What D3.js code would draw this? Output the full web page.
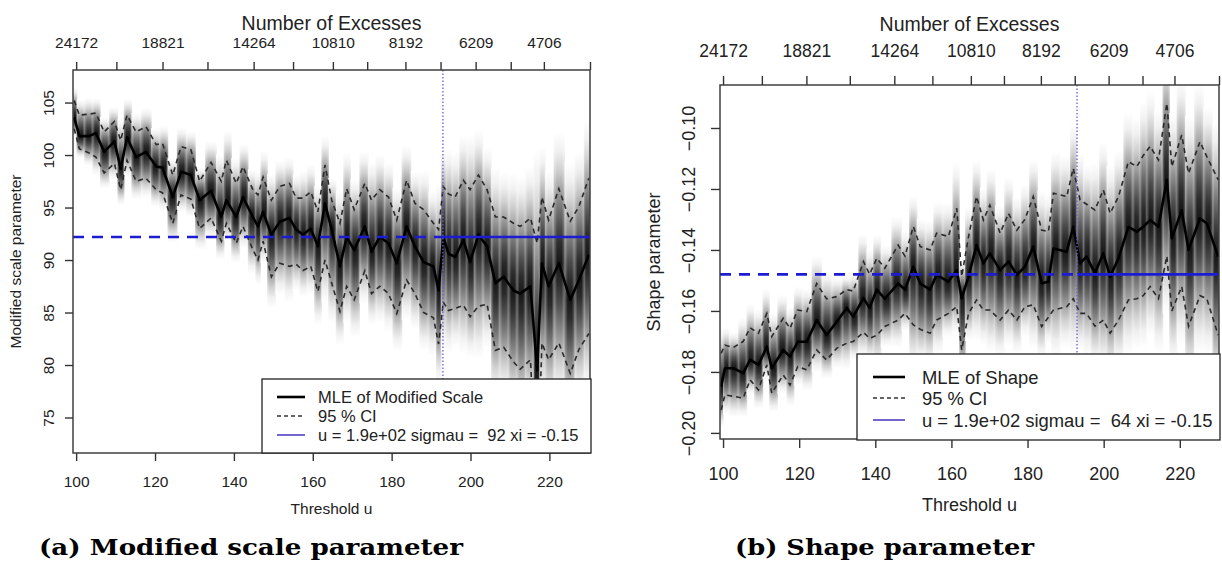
<!DOCTYPE html>
<html><head><meta charset="utf-8">
<script src="https://cdn.jsdelivr.net/npm/d3@7"></script>
<style>body{margin:0;background:#fff}svg{display:block}</style>
</head><body>
<svg id="chart" width="1222" height="571"></svg>
<script>
// ---------- data ----------
const thresholdsScale = [99.5,100.8,103.3,105.0,107.1,109.7,111.3,112.9,115.2,117.7,120.3,121.9,124.5,126.6,129.1,131.3,134.2,136.8,138.1,140.6,142.3,144.8,146.1,147.4,149.5,151.6,154.1,155.8,157.5,159.5,161.3,163.1,164.8,166.9,168.6,170.5,173.2,174.9,177.0,179.2,181.3,183.8,185.9,188.1,190.6,191.9,193.1,194.4,196.1,198.2,199.9,202.0,204.2,206.3,208.4,210.9,212.6,215.2,216.9,218.1,219.8,222.4,225.3,227.5,230.0];
const mleScale   = [103.6,101.8,101.8,102.1,100.3,101.3,98.7,101.7,99.8,100.3,98.9,98.8,96.0,98.4,98.1,95.7,96.6,94.1,95.7,94.1,96.0,94.1,93.2,94.6,92.4,93.65,94.0,92.9,92.4,93.0,91.3,95.4,92.9,89.4,92.2,90.95,93.2,90.8,92.2,91.6,89.7,93.2,91.3,89.8,89.4,87.1,92.2,90.6,90.3,91.9,89.8,92.4,91.3,87.8,88.4,87.1,86.8,87.5,79.5,89.7,87.5,89.7,86.2,88.1,90.5];
const upperScale = [105.2,103.8,103.9,104.0,102.2,103.2,101.4,103.8,102.2,102.7,101.0,101.1,98.1,100.8,100.5,97.5,99.3,97.5,99.5,97.3,98.9,96.7,96.2,97.9,95.7,97.0,97.3,95.9,95.9,96.5,94.6,99.05,95.7,93.5,96.8,94.8,97.3,95.7,96.7,96.0,93.8,97.6,95.4,94.8,93.5,92.9,97.0,96.3,96.0,97.6,96.7,98.1,96.7,94.1,94.1,93.5,93.2,94.0,91.6,96.0,93.8,96.8,93.7,95.1,97.8];
const lowerScale = [102.5,100.6,100.2,99.8,98.3,99.2,96.7,99.5,97.5,97.8,96.7,96.4,93.5,96.2,95.8,93.0,94.0,91.8,93.5,91.6,93.2,91.0,90.0,91.8,88.4,89.7,89.4,89.6,89.0,89.4,87.0,90.0,87.8,85.1,87.5,86.2,89.0,86.8,87.5,86.8,84.9,88.1,86.8,85.0,84.5,82.0,86.0,85.2,85.4,85.7,84.6,85.6,85.8,81.4,81.7,80.3,79.6,80.5,68.0,82.1,80.5,82.1,79.2,81.5,83.0];

const thresholdsShape = [99.5,100.5,102.7,105.3,107.1,109.3,111.5,112.8,115.8,117.6,119.6,122.0,124.6,127.2,129.9,132.5,134.2,136.9,138.5,140.4,142.5,146.0,147.8,150.0,151.8,154.4,156.1,159.2,161.4,162.7,164.5,166.6,168.4,170.1,172.8,175.0,177.2,179.3,181.5,183.7,185.5,186.8,190.3,192.0,193.8,195.5,197.7,199.9,201.7,203.9,206.5,208.7,210.4,212.2,214.4,216.6,217.9,220.5,222.3,225.3,227.1,230.1];
const mleShape   = [-0.1848,-0.1788,-0.1788,-0.1804,-0.1760,-0.1777,-0.1717,-0.1788,-0.1728,-0.1750,-0.1701,-0.1701,-0.1630,-0.1679,-0.1635,-0.1590,-0.1619,-0.1558,-0.1590,-0.1530,-0.1560,-0.1510,-0.1530,-0.1455,-0.1510,-0.1530,-0.1482,-0.1504,-0.1466,-0.1559,-0.1487,-0.1384,-0.1444,-0.1411,-0.1466,-0.1438,-0.1482,-0.1455,-0.1389,-0.1509,-0.1504,-0.1395,-0.1406,-0.1324,-0.1444,-0.1422,-0.1476,-0.1411,-0.1487,-0.1427,-0.1324,-0.1340,-0.1324,-0.1302,-0.1324,-0.1170,-0.1362,-0.1270,-0.1400,-0.1296,-0.1313,-0.1422];
const upperShape = [-0.1739,-0.1712,-0.1720,-0.1700,-0.1655,-0.1673,-0.1608,-0.1684,-0.1624,-0.1657,-0.1597,-0.1602,-0.1510,-0.1560,-0.1553,-0.1530,-0.1535,-0.1438,-0.1480,-0.1427,-0.1460,-0.1384,-0.1420,-0.1323,-0.1389,-0.1400,-0.1345,-0.1356,-0.1263,-0.1487,-0.1356,-0.1225,-0.1302,-0.1253,-0.1345,-0.1280,-0.1335,-0.1300,-0.1225,-0.1335,-0.1340,-0.1214,-0.1225,-0.1132,-0.1236,-0.1250,-0.1269,-0.1203,-0.1280,-0.1225,-0.1110,-0.1127,-0.1090,-0.1060,-0.1105,-0.0919,-0.1127,-0.1023,-0.1149,-0.1045,-0.1094,-0.1170];
const lowerShape = [-0.1925,-0.1875,-0.1880,-0.1886,-0.1826,-0.1859,-0.1777,-0.1870,-0.1810,-0.1843,-0.1783,-0.1793,-0.1728,-0.1761,-0.1722,-0.1706,-0.1700,-0.1670,-0.1690,-0.1680,-0.1651,-0.1630,-0.1608,-0.1646,-0.1660,-0.1673,-0.1630,-0.1608,-0.1586,-0.1728,-0.1608,-0.1564,-0.1597,-0.1597,-0.1630,-0.1597,-0.1630,-0.1586,-0.1580,-0.1651,-0.1620,-0.1597,-0.1586,-0.1560,-0.1608,-0.1608,-0.1650,-0.1630,-0.1673,-0.1630,-0.1564,-0.1560,-0.1550,-0.1520,-0.1560,-0.1420,-0.1600,-0.1520,-0.1650,-0.1550,-0.1560,-0.1680];

const thresholdTicks = [100,120,140,160,180,200,220];
const scaleTicks = [75,80,85,90,95,100,105];
const shapeTicks = [-0.20,-0.18,-0.16,-0.14,-0.12,-0.10];
const excessTickU = [100,110.2,121.9,133.3,145.0,155.0,165.1,173.8,183.5,192.4,201.3,210.2,218.6,230.3];
const excessTickLabels = ["24172","","18821","","14264","","10810","","8192","","6209","","4706",""];
const chosenThreshold = 193;
const refScale = 92.2;
const refShape = -0.148;
const legendScale = ["MLE of Modified Scale","95 % CI","u = 1.9e+02 sigmau =  92 xi = -0.15"];
const legendShape = ["MLE of Shape","95 % CI","u = 1.9e+02 sigmau =  64 xi = -0.15"];
const captions = ["(a) Modified scale parameter","(b) Shape parameter"];

// ---------- drawing ----------
const svg = d3.select("#chart");
const defs = svg.append("defs");
const FONT = "Liberation Sans, Arial, sans-serif";

// horizontal banding overlay gradient (lighter strip edges)
const band = defs.append("linearGradient").attr("id","band").attr("x1",0).attr("x2",1).attr("y1",0).attr("y2",0);
[[0,0.35],[0.3,0.0],[0.7,0.0],[1,0.35]].forEach(([o,a])=>band.append("stop").attr("offset",o).attr("stop-color","#fff").attr("stop-opacity",a));

function panel(cfg){
  const {id,box,yDomain,u,mle,up,lo,yTicks,yFmt,ref,fs,legend,leg,ylabel,lab} = cfg;
  const x = d3.scaleLinear().domain([99.2,230.3]).range([box.x0,box.x1]);
  const y = d3.scaleLinear().domain(yDomain).range([box.y1,box.y0]);
  const g = svg.append("g");
  defs.append("clipPath").attr("id","clip"+id).append("rect")
    .attr("x",box.x0).attr("y",box.y0).attr("width",box.x1-box.x0).attr("height",box.y1-box.y0);
  const plot = g.append("g").attr("clip-path",`url(#clip${id})`);

  // shaded strips
  const fs_ = [1.75,1.5,1.25,1.0,0.75,0.5,0.25,0];
  const grays = [255,240,208,165,120,78,44,24];
  u.forEach((ui,i)=>{
    const xl = i===0 ? box.x0 : x((u[i-1]+ui)/2);
    const xr = i===u.length-1 ? box.x1 : x((u[i+1]+ui)/2);
    const m = mle[i], hu = up[i]-m, hl = m-lo[i];
    const yTop = y(m+1.75*hu), yBot = y(m-1.75*hl);
    const gid = `g${id}_${i}`;
    const gr = defs.append("linearGradient").attr("id",gid).attr("gradientUnits","userSpaceOnUse")
      .attr("x1",0).attr("x2",0).attr("y1",yTop).attr("y2",yBot);
    const H = yBot-yTop;
    fs_.forEach((f,k)=>{ const c=grays[k]; gr.append("stop").attr("offset",(y(m+f*hu)-yTop)/H).attr("stop-color",`rgb(${c},${c},${c})`);});
    fs_.slice().reverse().slice(1).forEach((f,k)=>{ const c=grays[grays.length-2-k]; gr.append("stop").attr("offset",(y(m-f*hl)-yTop)/H).attr("stop-color",`rgb(${c},${c},${c})`);});
    plot.append("rect").attr("x",xl).attr("y",yTop).attr("width",Math.max(0,xr-xl)+0.5).attr("height",H).attr("fill",`url(#${gid})`);
    plot.append("rect").attr("x",xl).attr("y",yTop).attr("width",Math.max(0,xr-xl)+0.5).attr("height",H).attr("fill","url(#band)");
  });

  const line = arr => d3.line().x((d,i)=>x(u[i])).y(d=>y(d))(arr);
  plot.append("path").attr("d",line(up)).attr("fill","none").attr("stroke","#2a2a2a").attr("stroke-width",1.6).attr("stroke-dasharray","5,4");
  plot.append("path").attr("d",line(lo)).attr("fill","none").attr("stroke","#2a2a2a").attr("stroke-width",1.6).attr("stroke-dasharray","5,4");
  plot.append("path").attr("d",line(mle)).attr("fill","none").attr("stroke","#000").attr("stroke-width",2.6).attr("stroke-linejoin","round");

  // reference lines
  plot.append("line").attr("x1",box.x0).attr("x2",x(chosenThreshold)).attr("y1",y(ref)).attr("y2",y(ref))
    .attr("stroke","#1c1cd2").attr("stroke-width",2.6).attr("stroke-dasharray","11,8");
  plot.append("line").attr("x1",x(chosenThreshold)).attr("x2",box.x1).attr("y1",y(ref)).attr("y2",y(ref))
    .attr("stroke","#1c1cd2").attr("stroke-width",2.6);
  plot.append("line").attr("x1",x(chosenThreshold)).attr("x2",x(chosenThreshold)).attr("y1",box.y0).attr("y2",box.y1)
    .attr("stroke","#6a5fd0").attr("stroke-width",1.3).attr("stroke-dasharray","1.5,2");

  // box
  g.append("rect").attr("x",box.x0).attr("y",box.y0).attr("width",box.x1-box.x0).attr("height",box.y1-box.y0)
    .attr("fill","none").attr("stroke","#333").attr("stroke-width",1.4);

  // bottom axis
  const ax = d3.axisBottom(x).tickValues(thresholdTicks).tickSize(lab.tick).tickPadding(0).tickFormat(d3.format("d"));
  const gb = g.append("g").attr("transform",`translate(0,${box.y1})`).call(ax);
  gb.select(".domain").remove();
  gb.selectAll("line").attr("stroke","#333").attr("stroke-width",1.4);
  gb.selectAll("text").attr("y",lab.bottomY-box.y1).attr("dy",0).attr("font-family",FONT).attr("font-size",fs.tick).attr("fill","#222");
  g.append("text").attr("x",(box.x0+box.x1)/2).attr("y",lab.xTitleY).attr("text-anchor","middle")
    .attr("font-family",FONT).attr("font-size",fs.title).attr("fill","#222").text("Threshold u");

  // top axis
  const at = d3.axisTop(x).tickValues(excessTickU).tickSize(lab.tick).tickPadding(0).tickFormat((d,i)=>excessTickLabels[i]);
  const gt = g.append("g").attr("transform",`translate(0,${box.y0})`).call(at);
  gt.select(".domain").remove();
  gt.selectAll("line").attr("stroke","#333").attr("stroke-width",1.4);
  gt.selectAll("text").attr("y",lab.topY-box.y0).attr("dy",0).attr("font-family",FONT).attr("font-size",fs.top).attr("fill","#222");
  g.append("text").attr("x",(box.x0+box.x1)/2).attr("y",lab.topTitleY).attr("text-anchor","middle")
    .attr("font-family",FONT).attr("font-size",fs.topTitle).attr("fill","#222").text("Number of Excesses");

  // left axis
  const ay = d3.axisLeft(y).tickValues(yTicks).tickSize(lab.tick).tickFormat(yFmt);
  const gl = g.append("g").attr("transform",`translate(${box.x0},0)`).call(ay);
  gl.select(".domain").remove();
  gl.selectAll("line").attr("stroke","#333").attr("stroke-width",1.4);
  gl.selectAll("text").attr("x",0).attr("y",0).attr("dy",0)
    .attr("transform",d=>`translate(${lab.yLabX-box.x0},0) rotate(-90)`)
    .attr("text-anchor","middle").attr("font-family",FONT).attr("font-size",fs.tick).attr("fill","#222");
  g.append("text").attr("transform",`translate(${lab.yTitleX},${(box.y0+box.y1)/2}) rotate(-90)`).attr("text-anchor","middle")
    .attr("font-family",FONT).attr("font-size",fs.title).attr("fill","#222").text(ylabel);

  // legend
  const lg = g.append("g");
  lg.append("rect").attr("x",leg.x0).attr("y",leg.y0).attr("width",leg.x1-leg.x0).attr("height",leg.y1-leg.y0)
    .attr("fill","#fff").attr("stroke","#222").attr("stroke-width",1.3);
  const styles = [{c:"#000",w:2.6,d:null},{c:"#333",w:1.6,d:"4,3"},{c:"#7367cf",w:2,d:null}];
  legend.forEach((t,i)=>{
    const yy = leg.rows[i];
    const ln = lg.append("line").attr("x1",leg.lx0).attr("x2",leg.lx1).attr("y1",yy).attr("y2",yy)
      .attr("stroke",styles[i].c).attr("stroke-width",styles[i].w);
    if(styles[i].d) ln.attr("stroke-dasharray",styles[i].d);
    lg.append("text").attr("x",leg.tx).attr("y",yy+fs.legend*0.36).attr("font-family",FONT)
      .attr("font-size",fs.legend).attr("fill","#222").attr("xml:space","preserve").style("white-space","pre").text(t);
  });
}

panel({id:"a",box:{x0:73,x1:590,y0:70,y1:453},yDomain:[71.62,108.1],u:thresholdsScale,mle:mleScale,up:upperScale,lo:lowerScale,
  yTicks:scaleTicks,yFmt:d3.format("d"),ref:refScale,
  fs:{tick:15.5,title:15.5,top:15.5,topTitle:19.5,legend:16.5},
  legend:legendScale,
  leg:{x0:262,x1:591,y0:379,y1:453,rows:[397,416,435],lx0:277,lx1:305,tx:318},
  ylabel:"Modified scale parameter",
  lab:{tick:8,bottomY:487,xTitleY:514,topY:48,topTitleY:30,yLabX:54,yTitleX:21}});

panel({id:"b",box:{x0:720,x1:1219,y0:85,y1:439},yDomain:[-0.202,-0.0859],u:thresholdsShape,mle:mleShape,up:upperShape,lo:lowerShape,
  yTicks:shapeTicks,yFmt:d3.format(".2f"),ref:refShape,
  fs:{tick:18,title:18,top:17.5,topTitle:19.5,legend:18.4},
  legend:legendShape,
  leg:{x0:857,x1:1220,y0:354,y1:440,rows:[377,398,420],lx0:873,lx1:905,tx:922},
  ylabel:"Shape parameter",
  lab:{tick:9,bottomY:480,xTitleY:511,topY:57,topTitleY:31,yLabX:695,yTitleX:660}});

// captions
svg.append("text").attr("x",39).attr("y",555).attr("font-family","DejaVu Serif, serif").attr("font-weight","bold")
  .attr("font-size",23).attr("textLength",424).attr("lengthAdjust","spacingAndGlyphs").attr("fill","#000").text(captions[0]);
svg.append("text").attr("x",735).attr("y",555).attr("font-family","DejaVu Serif, serif").attr("font-weight","bold")
  .attr("font-size",23).attr("textLength",299).attr("lengthAdjust","spacingAndGlyphs").attr("fill","#000").text(captions[1]);
</script>
</body></html>
